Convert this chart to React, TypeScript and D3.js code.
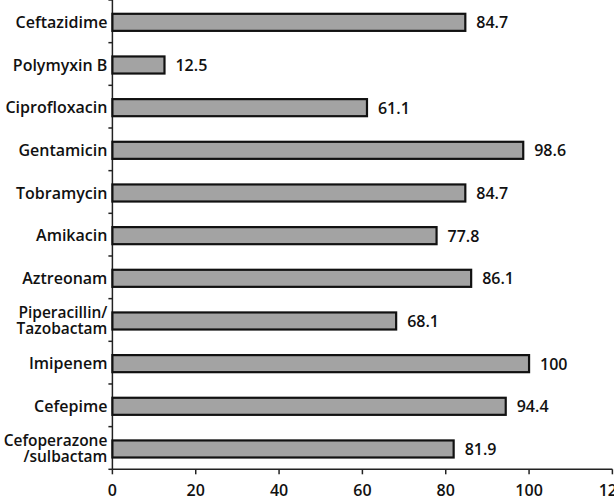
import React from "react";
import * as d3 from "d3";

const categories = [
  "Ceftazidime",
  "Polymyxin B",
  "Ciprofloxacin",
  "Gentamicin",
  "Tobramycin",
  "Amikacin",
  "Aztreonam",
  "Piperacillin/\nTazobactam",
  "Imipenem",
  "Cefepime",
  "Cefoperazone\n/sulbactam",
];
const values = [84.7, 12.5, 61.1, 98.6, 84.7, 77.8, 86.1, 68.1, 100, 94.4, 81.9];
const valueLabels = ["84.7", "12.5", "61.1", "98.6", "84.7", "77.8", "86.1", "68.1", "100", "94.4", "81.9"];
const xTicks = [0, 20, 40, 60, 80, 100, 120];

const W = 614;
const H = 501;
const left = 112.4;
const right = 612.4;
const top = 0;
const bottom = 469.3;
const FONT = "'Open Sans', sans-serif";

export default function App() {
  const x = d3.scaleLinear().domain([0, 120]).range([left, right]);
  const y = d3
    .scaleBand<number>()
    .domain(d3.range(categories.length))
    .range([top, bottom])
    .paddingInner(0.6)
    .paddingOuter(0.3);
  const step = y.step();
  return (
    <svg width={W} height={H} style={{ position: "absolute", left: 0, top: 0 }}>
      {/* y axis */}
      <line x1={left} x2={left} y1={top} y2={bottom} stroke="#222" strokeWidth={1.5} />
      {d3.range(categories.length + 1).map((i) => (
        <line key={"yt" + i} x1={left - 4} x2={left} y1={top + i * step} y2={top + i * step} stroke="#222" strokeWidth={1.5} />
      ))}
      {/* x axis */}
      <line x1={left} x2={right} y1={bottom} y2={bottom} stroke="#222" strokeWidth={1.5} />
      {xTicks.map((t) => (
        <g key={"xt" + t}>
          <line x1={x(t)} x2={x(t)} y1={bottom} y2={bottom + 5} stroke="#222" strokeWidth={1.5} />
          <text x={x(t)} y={bottom + 27} textAnchor="middle" fontFamily={FONT} fontSize={16} fontWeight={600} fill="#111">
            {t}
          </text>
        </g>
      ))}
      {/* bars */}
      {values.map((v, i) => {
        const yb = y(i)!;
        const bh = y.bandwidth();
        const lines = categories[i].split("\n");
        const cy = yb + bh / 2;
        return (
          <g key={"b" + i}>
            <rect x={x(0)} y={yb + 1} width={x(v) - x(0)} height={bh} fill="#a3a3a3" stroke="#111" strokeWidth={2.2} />
            <text x={x(v) + 11} y={cy + 1.5} dy="0.35em" fontFamily={FONT} fontSize={16} fontWeight={600} fill="#111">
              {valueLabels[i]}
            </text>
            {lines.map((ln, j) => (
              <text
                key={j}
                x={left - 5}
                y={cy + 1 + (j - (lines.length - 1) / 2) * 16}
                dy="0.35em"
                textAnchor="end"
                fontFamily={FONT}
                fontSize={lines.length > 1 ? 15.5 : 16}
                fontWeight={600}
                fill="#111"
              >
                {ln}
              </text>
            ))}
          </g>
        );
      })}
    </svg>
  );
}
